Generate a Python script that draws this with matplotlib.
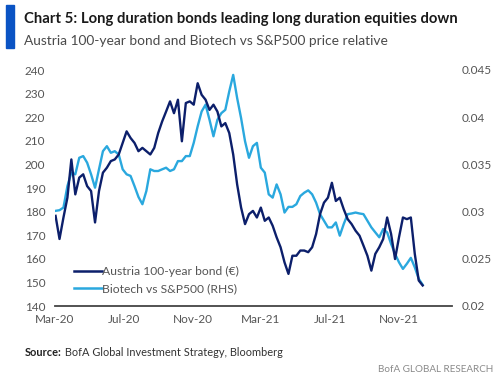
import matplotlib
matplotlib.use("Agg")
import matplotlib.pyplot as plt
from matplotlib import font_manager
import pandas as pd

# ---------------- data (weekly) ----------------
dates = pd.date_range("2020-03-02", periods=94, freq="7D")

austria_bond = [
    178.2, 168.4, 177.5, 185.9, 202.1, 187.3, 194.4, 195.8, 190.8, 188.7,
    175.4, 188.7, 196.5, 198.6, 201.4, 202.1, 204.2, 209.1, 214.0, 211.2,
    209.1, 205.6, 207.0, 205.6, 204.2, 207.0, 213.3, 218.2, 222.4, 226.7,
    221.7, 227.4, 209.8, 226.0, 226.7, 225.3, 234.4, 229.5, 227.4, 223.1,
    225.3, 222.4, 216.1, 217.5, 213.3, 204.2, 191.5, 181.7, 174.7, 178.9,
    180.3, 177.5, 181.7, 176.1, 177.5, 174.0, 169.1, 164.9, 158.5, 153.6,
    161.3, 161.3, 163.5, 163.5, 162.8, 164.9, 170.5, 178.9, 183.8, 185.9,
    192.2, 184.5, 185.9, 181.0, 176.8, 174.7, 171.9, 169.8, 165.6, 161.3,
    155.0, 162.1, 164.9, 168.4, 177.5, 170.5, 159.9, 169.1, 177.5, 176.8,
    177.5, 162.1, 150.8, 148.7,
]

biotech_rel = [
    0.03008, 0.03015, 0.03043, 0.03270, 0.03413, 0.03395, 0.03570, 0.03588, 0.03518, 0.03395,
    0.03253, 0.03448, 0.03640, 0.03693, 0.03623, 0.03640, 0.03605, 0.03448, 0.03395, 0.03378,
    0.03270, 0.03155, 0.03078, 0.03218, 0.03448, 0.03430, 0.03430, 0.03448, 0.03465, 0.03430,
    0.03448, 0.03535, 0.03535, 0.03588, 0.03588, 0.03728, 0.03903, 0.04060, 0.04133, 0.03973,
    0.03798, 0.03973, 0.04043, 0.04078, 0.04273, 0.04448, 0.04203, 0.03990, 0.03745, 0.03570,
    0.03693, 0.03728, 0.03465, 0.03413, 0.03183, 0.03148, 0.03288, 0.03183, 0.02990, 0.03050,
    0.03050, 0.03078, 0.03165, 0.03200, 0.03225, 0.03183, 0.03095, 0.02973, 0.02903, 0.02833,
    0.02833, 0.02885, 0.02745, 0.02868, 0.02973, 0.02980, 0.02990, 0.02980, 0.02973, 0.02903,
    0.02833, 0.02780, 0.02728, 0.02815, 0.02780, 0.02658, 0.02553, 0.02463, 0.02393, 0.02448,
    0.02510, 0.02410, 0.02288, 0.02225,
]

left_ticks = [140, 150, 160, 170, 180, 190, 200, 210, 220, 230, 240]
right_ticks = [0.02, 0.025, 0.03, 0.035, 0.04, 0.045]
right_tick_labels = ["0.02", "0.025", "0.03", "0.035", "0.04", "0.045"]
x_tick_dates = pd.to_datetime(["2020-03-01", "2020-07-01", "2020-11-01",
                               "2021-03-01", "2021-07-01", "2021-11-01"])
x_tick_labels = ["Mar-20", "Jul-20", "Nov-20", "Mar-21", "Jul-21", "Nov-21"]

title = "Chart 5: Long duration bonds leading long duration equities down"
subtitle = "Austria 100-year bond and Biotech vs S&P500 price relative"
source_bold = "Source:"
source_rest = " BofA Global Investment Strategy, Bloomberg"
brand = "BofA GLOBAL RESEARCH"
series_names = ["Austria 100-year bond (€)", "Biotech vs S&P500 (RHS)"]

# ---------------- style ----------------
def pick_font(cands):
    for c in cands:
        try:
            font_manager.findfont(font_manager.FontProperties(family=c),
                                  fallback_to_default=False)
            return c
        except Exception:
            pass
    return "DejaVu Sans"

FONT = pick_font(["Liberation Sans Narrow", "Lato", "Open Sans", "DejaVu Sans"])
plt.rcParams["font.family"] = [FONT, "DejaVu Sans"]

NAVY = "#0c1f6b"
LIGHT = "#2aa8de"
GRAY = "#555555"

W, H = 500, 379
fig = plt.figure(figsize=(5.0, 3.79), dpi=100)
ax = fig.add_axes([55 / W, 1 - 306 / H, (452 - 55) / W, (306 - 70) / H])
ax2 = ax.twinx()

ax.plot(dates, austria_bond, color=NAVY, lw=1.7, zorder=3, label=series_names[0])
ax2.plot(dates, biotech_rel, color=LIGHT, lw=1.7, zorder=2, label=series_names[1])
ax.set_zorder(ax2.get_zorder() + 1)
ax.patch.set_visible(False)

ax.set_xlim(pd.Timestamp("2020-03-01"), pd.Timestamp("2022-02-03"))
ax.set_ylim(140, 240)
ax2.set_ylim(0.02, 0.045)
ax.set_yticks(left_ticks)
ax2.set_yticks(right_ticks)
ax2.set_yticklabels(right_tick_labels)
ax.set_xticks(x_tick_dates)
ax.set_xticklabels(x_tick_labels)

for a in (ax, ax2):
    for s in ("top", "left", "right", "bottom"):
        a.spines[s].set_visible(False)
ax.spines["bottom"].set_visible(True)
ax.spines["bottom"].set_color("#444444")
ax.spines["bottom"].set_linewidth(1.3)

ax.tick_params(axis="both", length=0, labelsize=8.5, labelcolor=GRAY)
ax.tick_params(axis="y", pad=7)
ax.tick_params(axis="x", pad=6)
ax2.tick_params(axis="y", length=0, labelsize=8.5, labelcolor=GRAY, pad=7)

h1, l1 = ax.get_legend_handles_labels()
h2, l2 = ax2.get_legend_handles_labels()
leg = ax.legend(h1 + h2, l1 + l2, loc="lower left", bbox_to_anchor=(0.03, 0.02),
                frameon=False, fontsize=8.7, handlelength=2.3, handletextpad=0.0,
                labelspacing=0.5, borderaxespad=0.2)
for t in leg.get_texts():
    t.set_color(GRAY)
for ln in leg.get_lines():
    ln.set_linewidth(1.8)

# header
fig.patches.append(plt.Rectangle((6 / W, 1 - 48 / H), 8 / W, 43 / H,
                                 transform=fig.transFigure, color="#0a53c4"))
t_title = fig.text(24 / W, 1 - 19 / H, title, fontsize=11, fontweight="bold",
                   color="#1a1a1a", va="center", ha="left")
t_sub = fig.text(24 / W, 1 - 41 / H, subtitle, fontsize=10.5, color="#4a4a4a",
                 va="center", ha="left")
t_brand = fig.text(493 / W, 1 - 370 / H, brand, fontsize=8, color="#8a8a8a",
                   va="center", ha="right")

fig.canvas.draw()
r = fig.canvas.get_renderer()
def fit(t, target):
    w = t.get_window_extent(r).width
    t.set_fontsize(t.get_fontsize() * target / w)
fit(t_title, 434)
fit(t_sub, 366)
fit(t_brand, 115)

# source line: bold label + regular text, same size
SRC_FS = 7.9
t_src1 = fig.text(25 / W, 1 - 352 / H, source_bold, fontsize=SRC_FS, fontweight="bold",
                  color="#222222", va="center", ha="left")
fig.canvas.draw()
x_end = t_src1.get_window_extent(r).x1
t_src2 = fig.text(x_end / W, 1 - 352 / H, source_rest, fontsize=SRC_FS,
                  color="#333333", va="center", ha="left")

fig.savefig("out.png", dpi=100)
